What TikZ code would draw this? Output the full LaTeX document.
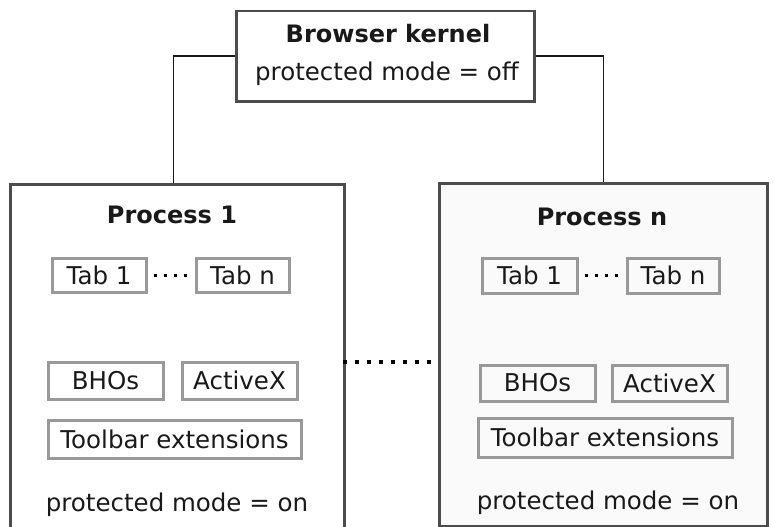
\documentclass[tikz,border=0pt]{standalone}
\usepackage{fontspec}
\setmainfont{DejaVu Sans}
\begin{document}
\begin{tikzpicture}[x=1pt,y=-1pt,
  outer/.style={draw=black!70,line width=2.5pt,inner sep=0pt,anchor=north west},
  inner/.style={draw=black!40,line width=3pt,inner sep=0pt,font=\fontsize{24.5}{28}\selectfont,text=black!90},
  lbl/.style={inner sep=0pt,font=\fontsize{24.5}{28}\selectfont,text=black!90},
  ttl/.style={inner sep=0pt,font=\fontsize{24}{28}\selectfont\bfseries,text=black!90},
  conn/.style={draw=black!90,line width=1.5pt},
  bigdots/.style={line width=3.5pt,dash pattern=on 3.5pt off 8.5pt},
  smalldots/.style={line width=3pt,dash pattern=on 3pt off 7pt}]
\useasboundingbox (0,0) rectangle (774,527);
% kernel
\node[outer,fill=white,minimum width=298pt,minimum height=90pt] (K) at (235,10) {};
\node[ttl] (Kt) at (388,34) {Browser kernel};
\node[lbl] (Km) at (387,74) {protected mode = off};
% processes
\node[outer,fill=white,minimum width=334pt,minimum height=350pt] (P1) at (9,183) {};
\node[outer,fill=black!2,minimum width=328pt,minimum height=343pt] (Pn) at (438,182) {};
\draw[conn] (K.west) -| ([xshift=-4pt]P1.north);
\draw[conn] (K.east) -| (Pn.north);
\coordinate (d1) at (343,362);
\coordinate (d2) at (438,362);
\draw[bigdots] (d1) -- (d2);
% process 1 contents
\node[ttl] (P1t) at (172,215) {Process 1};
\node[inner,minimum width=94pt,minimum height=34pt] (a1) at (99,275) {Tab 1};
\node[inner,minimum width=93pt,minimum height=34pt] (a2) at (242.5,275) {Tab n};
\draw[smalldots] ([xshift=6pt]a1.east) -- ([xshift=-3pt]a2.west);
\node[inner,minimum width=115pt,minimum height=37pt] (a3) at (105.5,380.5) {BHOs};
\node[inner,minimum width=115pt,minimum height=37pt] (a4) at (239.5,380.5) {ActiveX};
\node[inner,minimum width=253pt,minimum height=38pt] (a5) at (174.5,439) {Toolbar extensions};
\node[lbl] (P1m) at (177,505) {protected mode = on};
% process n contents
\node[ttl] (Pnt) at (602,217) {Process n};
\node[inner,minimum width=95pt,minimum height=35pt] (b1) at (529.5,275.5) {Tab 1};
\node[inner,minimum width=92pt,minimum height=35pt] (b2) at (673,275.5) {Tab n};
\draw[smalldots] ([xshift=6pt]b1.east) -- ([xshift=-3pt]b2.west);
\node[inner,minimum width=115pt,minimum height=36pt] (b3) at (537.5,383) {BHOs};
\node[inner,minimum width=115pt,minimum height=36pt] (b4) at (669.5,383) {ActiveX};
\node[inner,minimum width=254pt,minimum height=39pt] (b5) at (605,437.5) {Toolbar extensions};
\node[lbl] (Pnm) at (608,503) {protected mode = on};
\end{tikzpicture}
\end{document}
